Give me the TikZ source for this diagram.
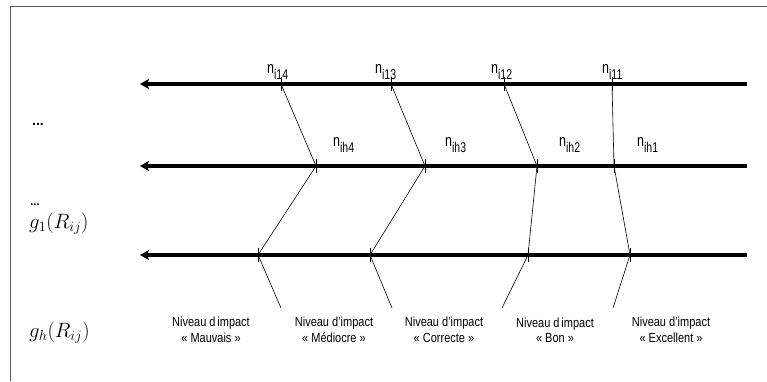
\documentclass[tikz,border=0pt]{standalone}
\usepackage{fontspec}
\setsansfont{Liberation Sans}
\usetikzlibrary{arrows.meta,positioning}
\tikzset{
  axe/.style={line width=3.4pt,{Stealth[length=9pt,width=10pt,inset=2pt]}-},
  cran/.style={line width=0.5pt},
  lien/.style={line width=0.6pt},
  niv/.style={font=\sffamily\fontsize{11}{15}\selectfont,align=center,inner sep=0pt},
  nlab/.style={font=\sffamily\fontsize{12.5}{14}\selectfont,inner sep=0pt,anchor=west},
  glab/.style={font=\fontsize{21}{24}\selectfont,inner sep=0pt,anchor=west},
}
\newcommand{\nsub}[1]{\scalebox{1}[1.35]{n\raisebox{-4pt}{\fontsize{10.5}{12}\selectfont #1}}}

\begin{document}
\begin{tikzpicture}[x=1pt,y=-1pt]
    \useasboundingbox (0,0) rectangle (767,381);
    % cadre
    \draw[gray!70!black,line width=0.8pt] (10,381) -- (10,6) -- (767,6);

    % les trois axes
    \coordinate (A1) at (140,84);  \coordinate (A1e) at (747,84);
    \coordinate (A2) at (140,166); \coordinate (A2e) at (747,166);
    \coordinate (A3) at (140,255); \coordinate (A3e) at (747,255);
    \draw[axe] (A1) -- (A1e);
    \draw[axe] (A2) -- (A2e);
    \draw[axe] (A3) -- (A3e);

    % seuils
    \coordinate (T4) at (281,84);  \coordinate (T3) at (391,84);
    \coordinate (T2) at (504,84);  \coordinate (T1) at (612,84);
    \coordinate (M4) at (316,166); \coordinate (M3) at (425,166);
    \coordinate (M2) at (537,166); \coordinate (M1) at (614,166);
    \coordinate (B4) at (258,255); \coordinate (B3) at (370,255);
    \coordinate (B2) at (528,255); \coordinate (B1) at (630,255);
    \coordinate (E4) at (281,308); \coordinate (E3) at (392,308);
    \coordinate (E2) at (502,308); \coordinate (E1) at (613,308);

    \foreach \p in {T4,T3,T2,T1,M4,M3,M2,M1,B4,B3,B2,B1}
      \draw[cran] ([yshift=-7pt]\p) -- ([yshift=7pt]\p);
    \foreach \i in {1,...,4}
      \draw[lien] (T\i) -- (M\i) -- (B\i) -- (E\i);

    % etiquettes
    \node[nlab] (nT4) at (267,72) {\nsub{i14}};
    \node[nlab] (nT3) at (375,72) {\nsub{i13}};
    \node[nlab] (nT2) at (491,72) {\nsub{i12}};
    \node[nlab] (nT1) at (602,72) {\nsub{i11}};
    \node[nlab] (nM4) at (333,145) {\nsub{ih4}};
    \node[nlab] (nM3) at (445,145) {\nsub{ih3}};
    \node[nlab] (nM2) at (559,145) {\nsub{ih2}};
    \node[nlab] (nM1) at (637,145) {\nsub{ih1}};

    \node[niv] (L4) at (211,330) {\scalebox{1}[1.2]{\shortstack{Niveau d\,impact\\« Mauvais »}}};
    \node[niv] (L3) at (334,330) {\scalebox{1}[1.2]{\shortstack{Niveau d'impact\\« Médiocre »}}};
    \node[niv] (L2) at (444,330) {\scalebox{1}[1.2]{\shortstack{Niveau d'impact\\« Correcte »}}};
    \node[niv] (L1) at (555,330) {\scalebox{1}[1.2]{\shortstack{Niveau d\,impact\\« Bon »}}};
    \node[niv] (L0) at (671,330) {\scalebox{1}[1.2]{\shortstack{Niveau d'impact\\« Excellent »}}};

    \node[font=\sffamily\bfseries\fontsize{14}{14}\selectfont,inner sep=0pt] (d1) at (38,124) {...};
    \node[font=\sffamily\bfseries\fontsize{11}{12}\selectfont,inner sep=0pt] (d2) at (35,205) {...};
    \node[glab] (g1) at (29,224) {$g_1(R_{ij})$};
    \node[glab] (gh) at (29,333) {$g_h(R_{ij})$};
\end{tikzpicture}
\end{document}
